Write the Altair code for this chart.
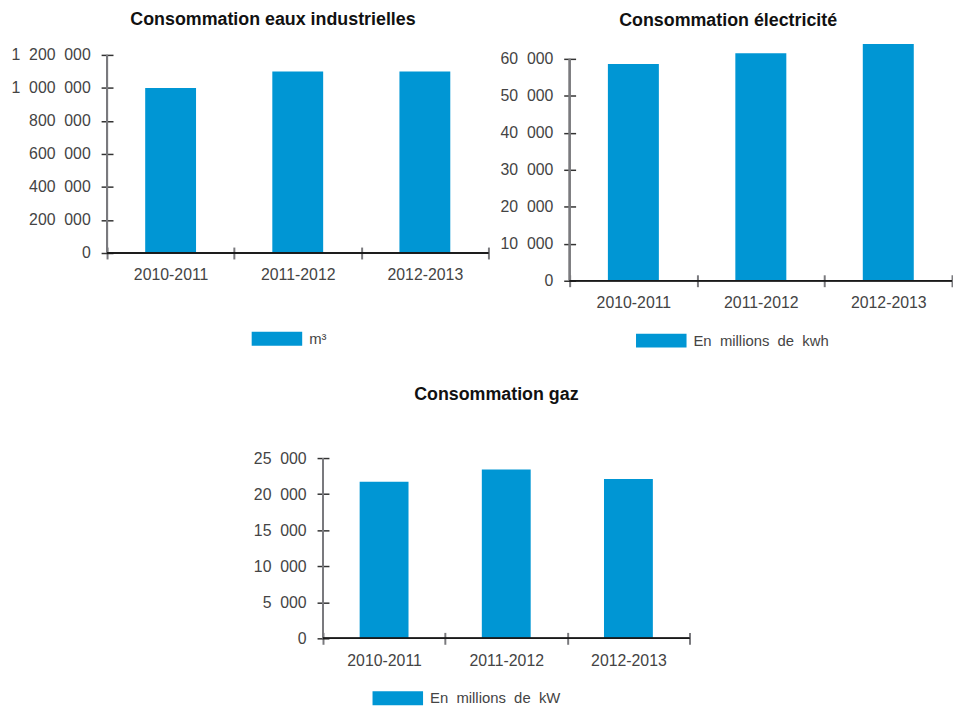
import altair as alt
import pandas as pd

NB = "\u00a0\u00a0"

periodes = ["2010-2011", "2011-2012", "2012-2013"]
eaux = [1000000, 1100000, 1100000]
electricite = [58600, 61500, 64000]
gaz = [21700, 23400, 22100]

titres = ["Consommation eaux industrielles", "Consommation électricité", "Consommation gaz"]
unites = ["m³", "En" + NB + "millions" + NB + "de" + NB + "kwh", "En" + NB + "millions" + NB + "de" + NB + "kW"]

BLUE = "#0096D4"
GREY = "#7a7a7e"
DARK = "#333333"
BLACK = "#1a1a1a"
LABEL = "#444444"
FONT = "Liberation Sans"

RECT = "M-1,-0.275L1,-0.275L1,0.275L-1,0.275Z"


def panel(values, ytop, ystep, dmax, title, unit, width, height, toffset, tdx, lx, ly):
    df = pd.DataFrame({"periode": periodes, "valeur": values, "serie": [unit] * 3})
    base = alt.Chart(df)
    yscale = alt.Scale(domain=[0, dmax], nice=False, zero=True)
    label_expr = "replace(format(datum.value, ','), regexp(',', 'g'), '" + NB + "')"
    bars = base.mark_bar(width=alt.RelativeBandSize(0.4)).encode(
        x=alt.X(
            "periode:N",
            sort=periodes,
            scale=alt.Scale(paddingInner=0, paddingOuter=0),
            axis=alt.Axis(
                title=None, labelAngle=0, tickBand="extent", domain=False,
                tickSize=12, offset=-6, labelPadding=8, tickColor=GREY,
                tickWidth=2, labelFontSize=16, labelFont=FONT, labelColor=LABEL,
            ),
        ),
        y=alt.Y(
            "valeur:Q",
            scale=yscale,
            axis=alt.Axis(
                title=None, values=list(range(0, ytop + 1, ystep)), tickCount=50,
                domain=False, tickSize=12, offset=-6, labelPadding=11, grid=False,
                labelOverlap=False, tickColor=DARK, tickWidth=1.5,
                labelFontSize=16, labelFont=FONT, labelColor=LABEL,
                labelExpr=label_expr,
            ),
        ),
        color=alt.Color(
            "serie:N",
            scale=alt.Scale(range=[BLUE]),
            legend=alt.Legend(
                title=None, orient="none", legendX=lx, legendY=ly,
                direction="horizontal", symbolType=RECT, symbolSize=2601,
                symbolStrokeWidth=0, labelFontSize=15, labelFont=FONT,
                labelColor=LABEL, labelOffset=7, padding=0,
            ),
        ),
    )
    yline = base.mark_rule(color=GREY, strokeWidth=2).encode(
        x=alt.value(0), y=alt.datum(0), y2=alt.datum(ytop)
    )
    xline = base.mark_rule(color=BLACK, strokeWidth=1.5).encode(y=alt.datum(0))
    return alt.layer(bars, yline, xline).properties(
        width=width,
        height=height,
        title=alt.Title(
            title, fontSize=18, font=FONT, fontWeight="bold", color="#111111",
            offset=toffset, dx=tdx, anchor="middle",
        ),
    )


c1 = panel(eaux, 1200000, 200000, 1200000, titres[0], unites[0], 385, 200, 18, -25, 146, 261)
c2 = panel(electricite, 60000, 10000, 61071, titres[1], unites[1], 386, 228, 14, -33, 67, 263)
c3 = panel(gaz, 25000, 5000, 25000, titres[2], unites[2], 370, 182, 47, -10, 50, 217)

spacer = (
    alt.Chart(pd.DataFrame({"a": [0]}))
    .mark_point(opacity=0)
    .properties(width=147, height=10)
)

top = alt.hconcat(c1, c2, spacing=10).resolve_scale(color="independent")
bottom = alt.hconcat(spacer, c3, spacing=0).resolve_scale(color="independent")

chart = (
    alt.vconcat(top, bottom, spacing=37)
    .resolve_scale(color="independent")
    .properties(padding={"left": 2, "top": 0, "right": 0, "bottom": 0}, background="white")
    .configure_view(strokeWidth=0, stroke=None)
)

chart.save("out.html", embed_options={"renderer": "svg", "actions": False})
